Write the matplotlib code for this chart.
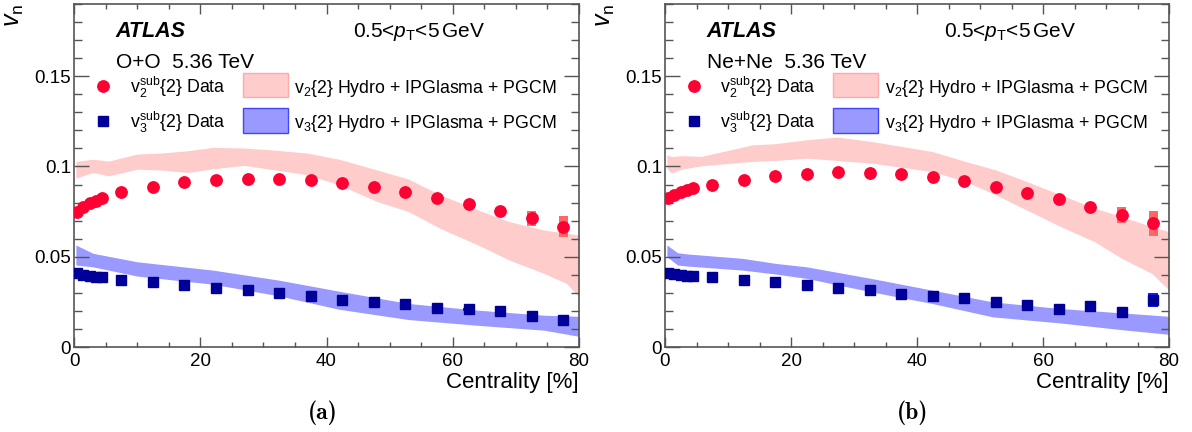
import matplotlib
matplotlib.use("Agg")
import matplotlib.pyplot as plt
from matplotlib.patches import Rectangle
from matplotlib.ticker import MultipleLocator

# ========================
# data
# ========================
cent = [0.5, 1.5, 2.5, 3.5, 4.5, 7.5, 12.5, 17.5, 22.5, 27.5, 32.5, 37.5,
        42.5, 47.5, 52.5, 57.5, 62.5, 67.5, 72.5, 77.5]

# O+O
oo_v2 = [0.0748, 0.0778, 0.0796, 0.0811, 0.0824, 0.0856, 0.0889, 0.0913, 0.0926, 0.0931,
         0.0930, 0.0924, 0.0909, 0.0887, 0.0861, 0.0826, 0.0793, 0.0754, 0.0713, 0.0667]
oo_v2_err = [0.0008, 0.0008, 0.0008, 0.0008, 0.0008, 0.0008, 0.0008, 0.0008, 0.0008, 0.0008,
             0.0008, 0.0008, 0.0009, 0.0010, 0.0011, 0.0012, 0.0015, 0.0020, 0.0040, 0.0060]
oo_v3 = [0.0411, 0.0398, 0.0393, 0.0389, 0.0385, 0.0370, 0.0359, 0.0346, 0.0328, 0.0313,
         0.0298, 0.0283, 0.0263, 0.0250, 0.0237, 0.0217, 0.0209, 0.0202, 0.0174, 0.0150]
oo_v3_err = [0.0006, 0.0006, 0.0006, 0.0006, 0.0006, 0.0006, 0.0006, 0.0006, 0.0006, 0.0006,
             0.0006, 0.0006, 0.0006, 0.0007, 0.0007, 0.0008, 0.0009, 0.0010, 0.0012, 0.0015]

oo_v2_band_x = [0.3, 3, 5.5, 10, 14, 18, 22, 27, 32, 37, 42, 48, 53, 58, 64, 69, 74.5, 78, 80]
oo_v2_band_lo = [0.0935, 0.0967, 0.0948, 0.0985, 0.0980, 0.0967, 0.0987, 0.1006, 0.0980, 0.0954,
                 0.0898, 0.0806, 0.0750, 0.0657, 0.0565, 0.0481, 0.0407, 0.0352, 0.0278]
oo_v2_band_hi = [0.1028, 0.1040, 0.1030, 0.1069, 0.1075, 0.1087, 0.1106, 0.1102, 0.1090, 0.1074,
                 0.1040, 0.0981, 0.0930, 0.0843, 0.0759, 0.0694, 0.0648, 0.0630, 0.0620]
oo_v3_band_x = [0.3, 3, 10, 22, 32.5, 42, 53, 64, 74.5, 80]
oo_v3_band_lo = [0.0454, 0.0444, 0.0393, 0.0348, 0.0283, 0.0209, 0.0152, 0.0120, 0.0093, 0.0059]
oo_v3_band_hi = [0.0565, 0.0519, 0.0472, 0.0426, 0.0370, 0.0309, 0.0241, 0.0204, 0.0176, 0.0170]

# Ne+Ne
nene_v2 = [0.0828, 0.0843, 0.0856, 0.0867, 0.0878, 0.0898, 0.0926, 0.0948, 0.0959, 0.0967,
           0.0963, 0.0957, 0.0939, 0.0920, 0.0885, 0.0852, 0.0820, 0.0778, 0.0730, 0.0685]
nene_v2_err = [0.0008, 0.0008, 0.0008, 0.0008, 0.0008, 0.0008, 0.0008, 0.0008, 0.0008, 0.0008,
               0.0008, 0.0008, 0.0009, 0.0010, 0.0011, 0.0012, 0.0015, 0.0020, 0.0045, 0.0068]
nene_v3 = [0.0411, 0.0404, 0.0398, 0.0394, 0.0393, 0.0387, 0.0372, 0.0361, 0.0344, 0.0328,
           0.0313, 0.0296, 0.0285, 0.0270, 0.0248, 0.0230, 0.0211, 0.0226, 0.0194, 0.0259]
nene_v3_err = [0.0006, 0.0006, 0.0006, 0.0006, 0.0006, 0.0006, 0.0006, 0.0006, 0.0006, 0.0006,
               0.0006, 0.0006, 0.0006, 0.0007, 0.0007, 0.0008, 0.0009, 0.0010, 0.0015, 0.0038]

nene_v2_band_x = [0.3, 1, 2.6, 5.8, 13.9, 17.4, 22.5, 27.3, 32.7, 42.4, 47.7, 52.5, 57.4,
                  62.8, 68.2, 72.5, 77.3, 80]
nene_v2_band_lo = [0.0990, 0.0963, 0.0985, 0.1004, 0.1028, 0.1033, 0.1046, 0.1033, 0.1019,
                   0.0972, 0.0917, 0.0843, 0.0759, 0.0667, 0.0583, 0.0491, 0.0407, 0.0315]
nene_v2_band_hi = [0.1065, 0.1055, 0.1060, 0.1056, 0.1120, 0.1126, 0.1148, 0.1163, 0.1139,
                   0.1083, 0.1028, 0.0981, 0.0917, 0.0843, 0.0769, 0.0722, 0.0667, 0.0639]
nene_v3_band_x = [0.3, 2, 3.7, 12.3, 17.6, 22.5, 32.7, 42.4, 52, 62.8, 72.5, 80]
nene_v3_band_lo = [0.0500, 0.0454, 0.0448, 0.0426, 0.0404, 0.0380, 0.0306, 0.0241, 0.0167,
                   0.0133, 0.0096, 0.0070]
nene_v3_band_hi = [0.0565, 0.0522, 0.0515, 0.0491, 0.0463, 0.0444, 0.0380, 0.0315, 0.0250,
                   0.0213, 0.0189, 0.0170]

systems = ["O+O  5.36 TeV", "Ne+Ne  5.36 TeV"]
panel_tags = ["(a)", "(b)"]

# ========================
# style
# ========================
plt.rcParams['font.family'] = ['Liberation Sans', 'DejaVu Sans']
plt.rcParams['mathtext.fontset'] = 'custom'
plt.rcParams['mathtext.rm'] = 'Liberation Sans'
plt.rcParams['mathtext.it'] = 'Liberation Sans:italic'
plt.rcParams['mathtext.bf'] = 'Liberation Sans:bold'

red = "#ff0033"
red_sys = "#ff6666"
navy = "#000099"
blue_sys = "#1a1aff"
pink_band = "#ffcccc"
blue_band = "#9999ff"
frame_col = "#555555"

fig = plt.figure(figsize=(11.92, 4.32), dpi=100)
W, H = 1192.0, 432.0

ax_boxes = [(74, 4, 505, 343), (665, 4, 504, 343)]
panels = [
    (oo_v2, oo_v2_err, oo_v3, oo_v3_err,
     oo_v2_band_x, oo_v2_band_lo, oo_v2_band_hi,
     oo_v3_band_x, oo_v3_band_lo, oo_v3_band_hi),
    (nene_v2, nene_v2_err, nene_v3, nene_v3_err,
     nene_v2_band_x, nene_v2_band_lo, nene_v2_band_hi,
     nene_v3_band_x, nene_v3_band_lo, nene_v3_band_hi),
]

for i, (x0, y0, w, h) in enumerate(ax_boxes):
    v2, v2e, v3, v3e, b2x, b2lo, b2hi, b3x, b3lo, b3hi = panels[i]
    ax = fig.add_axes([x0 / W, 1 - (y0 + h) / H, w / W, h / H])

    # model bands
    ax.fill_between(b2x, b2lo, b2hi, color=pink_band, lw=0, zorder=1)
    ax.fill_between(b3x, b3lo, b3hi, color=blue_band, lw=0, zorder=1)

    # systematic boxes behind the points
    lo2 = [a - b for a, b in zip(v2, v2e)]
    lo3 = [a - b for a, b in zip(v3, v3e)]
    ax.bar(cent, [2 * e for e in v2e], bottom=lo2, width=1.4, color=red_sys, lw=0, zorder=2)
    ax.bar(cent, [2 * e for e in v3e], bottom=lo3, width=1.6, color=blue_sys, lw=0, zorder=2)

    # data points
    ax.plot(cent, v2, 'o', color=red, ms=8.2, mec=red, zorder=3)
    ax.plot(cent, v3, 's', color=navy, ms=6.8, mec=navy, zorder=3)

    ax.set_xlim(0, 80)
    ax.set_ylim(0, 0.19)
    ax.xaxis.set_minor_locator(MultipleLocator(5))
    ax.yaxis.set_minor_locator(MultipleLocator(0.01))
    ax.set_xticks([0, 20, 40, 60, 80])
    ax.set_xticklabels(["0", "20", "40", "60", "80"])
    ax.set_yticks([0, 0.05, 0.1, 0.15])
    ax.set_yticklabels(["0", "0.05", "0.1", "0.15"])

    ax.tick_params(which='both', direction='in', top=True, right=True,
                   colors=frame_col, labelcolor='black', labelsize=13.5, width=1)
    ax.tick_params(axis='y', which='major', length=11, pad=2)
    ax.tick_params(axis='y', which='minor', length=5.5)
    ax.tick_params(axis='x', which='major', length=7, pad=4)
    ax.tick_params(axis='x', which='minor', length=3.6)
    for sp in ax.spines.values():
        sp.set_color(frame_col)
        sp.set_linewidth(1.2)

    ax.text(1.0, -0.1195, "Centrality [%]", transform=ax.transAxes, fontsize=16,
            ha='right', va='baseline')
    ax.set_ylabel(r"$v_{\rm n}$", fontsize=18, loc='top')
    ax.yaxis.set_label_coords(-0.095, 1.0)

    # labels
    ax.text(0.083, 0.905, "ATLAS", transform=ax.transAxes, fontsize=15.5,
            fontweight='bold', fontstyle='italic', va='baseline')
    ax.text(0.553, 0.905, r"0.5<$p_{\rm T}$<5$\,$GeV", transform=ax.transAxes,
            fontsize=15, va='baseline')
    ax.text(0.083, 0.8125, systems[i], transform=ax.transAxes, fontsize=15, va='baseline')

    # legend drawn by hand
    ax.plot([0.057], [0.761], 'o', color=red, ms=8.2, transform=ax.transAxes, clip_on=False)
    ax.plot([0.057], [0.658], 's', color=navy, ms=6.8, transform=ax.transAxes, clip_on=False)
    ax.text(0.110, 0.741, r"v$_2^{\rm sub}${2} Data", transform=ax.transAxes,
            fontsize=12.8, va='baseline')
    ax.text(0.110, 0.6385, r"v$_3^{\rm sub}${2} Data", transform=ax.transAxes,
            fontsize=12.8, va='baseline')
    ax.add_patch(Rectangle((0.334, 0.728), 0.089, 0.072, transform=ax.transAxes,
                           facecolor=pink_band, edgecolor="#ffaaaa", lw=1))
    ax.add_patch(Rectangle((0.334, 0.624), 0.089, 0.072, transform=ax.transAxes,
                           facecolor=blue_band, edgecolor="#4444ff", lw=1))
    ax.text(0.436, 0.741, r"v$_2${2} Hydro + IPGlasma + PGCM", transform=ax.transAxes,
            fontsize=12.8, va='baseline')
    ax.text(0.436, 0.6385, r"v$_3${2} Hydro + IPGlasma + PGCM", transform=ax.transAxes,
            fontsize=12.8, va='baseline')

    # sub-figure tag
    fig.text((x0 + w / 2 - 4) / W, 1 - 413 / H, panel_tags[i], family='cmb10',
             fontsize=17, ha='center', va='center')

fig.savefig("out.png", dpi=100)
